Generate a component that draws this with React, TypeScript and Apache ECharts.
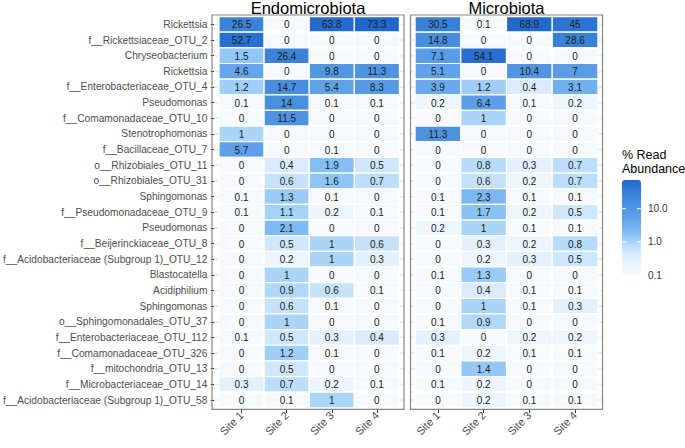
import React, { useEffect, useRef } from "react";
import * as echarts from "echarts";

// ---------- data ----------
const SITES = ["Site 1", "Site 2", "Site 3", "Site 4"];
const FACETS = ["Endomicrobiota", "Microbiota"];
const TAXA = [
  "Rickettsia",
  "f__Rickettsiaceae_OTU_2",
  "Chryseobacterium",
  "Rickettsia",
  "f__Enterobacteriaceae_OTU_4",
  "Pseudomonas",
  "f__Comamonadaceae_OTU_10",
  "Stenotrophomonas",
  "f__Bacillaceae_OTU_7",
  "o__Rhizobiales_OTU_11",
  "o__Rhizobiales_OTU_31",
  "Sphingomonas",
  "f__Pseudomonadaceae_OTU_9",
  "Pseudomonas",
  "f__Beijerinckiaceae_OTU_8",
  "f__Acidobacteriaceae (Subgroup 1)_OTU_12",
  "Blastocatella",
  "Acidiphilium",
  "Sphingomonas",
  "o__Sphingomonadales_OTU_37",
  "f__Enterobacteriaceae_OTU_112",
  "f__Comamonadaceae_OTU_326",
  "f__mitochondria_OTU_13",
  "f__Microbacteriaceae_OTU_14",
  "f__Acidobacteriaceae (Subgroup 1)_OTU_58",
];
// Endomicrobiota, per site (rows in TAXA order)
const ENDO_SITE1 = [26.5, 52.7, 1.5, 4.6, 1.2, 0.1, 0, 1, 5.7, 0, 0, 0.1, 0.1, 0, 0, 0, 0, 0, 0, 0, 0.1, 0, 0, 0.3, 0];
const ENDO_SITE2 = [0, 0, 26.4, 0, 14.7, 14, 11.5, 0, 0, 0.4, 0.6, 1.3, 1.1, 2.1, 0.5, 0.2, 1, 0.9, 0.6, 1, 0.5, 1.2, 0.5, 0.7, 0.1];
const ENDO_SITE3 = [63.8, 0, 0, 9.8, 5.4, 0.1, 0, 0, 0.1, 1.9, 1.6, 0.1, 0.2, 0, 1, 1, 0, 0.6, 0.1, 0, 0.3, 0.1, 0, 0.2, 1];
const ENDO_SITE4 = [73.3, 0, 0, 11.3, 8.3, 0.1, 0, 0, 0, 0.5, 0.7, 0, 0.1, 0, 0.6, 0.3, 0, 0.1, 0, 0, 0.4, 0, 0, 0.1, 0];
// Microbiota, per site
const MICRO_SITE1 = [30.5, 14.8, 7.1, 5.1, 3.9, 0.2, 0, 11.3, 0, 0, 0, 0.1, 0.1, 0.2, 0, 0, 0.1, 0, 0, 0.1, 0.3, 0.1, 0, 0.1, 0];
const MICRO_SITE2 = [0.1, 0, 54.1, 0, 1.2, 6.4, 1, 0, 0, 0.8, 0.6, 2.3, 1.7, 1, 0.3, 0.2, 1.3, 0.4, 1, 0.9, 0, 0.2, 1.4, 0.2, 0.2];
const MICRO_SITE3 = [68.9, 0, 0, 10.4, 0.4, 0.1, 0, 0, 0, 0.3, 0.2, 0.1, 0.2, 0.1, 0.2, 0.3, 0, 0.1, 0.1, 0, 0.2, 0.1, 0, 0, 0.1];
const MICRO_SITE4 = [45, 28.6, 0, 7, 3.1, 0.2, 0, 0, 0, 0.7, 0.7, 0.1, 0.5, 0.1, 0.8, 0.5, 0, 0.1, 0.3, 0, 0.2, 0.1, 0, 0, 0.1];
const LEGEND_TICKS = [10, 1, 0.1];
const LEGEND_TICK_LABELS = ["10.0", "1.0", "0.1"];

// ---------- style ----------
const FONT = '"Liberation Sans", Arial, Helvetica, sans-serif';
const COLOR_STOPS: [number, number[]][] = [
  [-1, [246, 250, 255]],
  [-0.699, [237, 245, 254]],
  [-0.523, [227, 240, 253]],
  [-0.301, [208, 231, 252]],
  [0, [170, 213, 250]],
  [0.301, [128, 187, 244]],
  [0.699, [97, 163, 234]],
  [1, [81, 150, 227]],
  [1.398, [61, 132, 218]],
  [1.865, [32, 103, 204]],
];

function stopColor(l: number): string {
  let a = COLOR_STOPS[0];
  let b = COLOR_STOPS[COLOR_STOPS.length - 1];
  if (l <= a[0]) b = a;
  for (let i = 0; i < COLOR_STOPS.length - 1; i++) {
    if (l >= COLOR_STOPS[i][0] && l <= COLOR_STOPS[i + 1][0]) {
      a = COLOR_STOPS[i];
      b = COLOR_STOPS[i + 1];
      break;
    }
  }
  const t = b[0] === a[0] ? 0 : (l - a[0]) / (b[0] - a[0]);
  const c = a[1].map((v, k) => Math.round(v + (b[1][k] - v) * t));
  return `rgb(${c[0]},${c[1]},${c[2]})`;
}

// layout (panel boxes)
const PANEL_TOP = 15;
const PANEL_H = 394.4;
const PANEL_W = 192;
const PANEL_LEFTS = [212, 410.5];
const PAD_UNITS = 0.1;

export default function App() {
  const ref = useRef<HTMLDivElement>(null);

  useEffect(() => {
    if (!ref.current) return;
    const chart = echarts.init(ref.current, undefined, { renderer: "svg" });

    const facetCols = [
      [ENDO_SITE1, ENDO_SITE2, ENDO_SITE3, ENDO_SITE4],
      [MICRO_SITE1, MICRO_SITE2, MICRO_SITE3, MICRO_SITE4],
    ];
    const allVals = facetCols.flat(2);
    const vMax = Math.max(...allVals);
    const vMin = Math.min(...allVals.filter((v) => v > 0));
    const lMin = Math.log10(vMin) - 1e-9;
    const lMax = Math.log10(vMax);

    const makeData = (cols: number[][]) => {
      const out: number[][] = [];
      cols.forEach((arr, c) =>
        arr.forEach((v, r) => out.push([c, r, v, v > 0 ? Math.log10(v) : -9]))
      );
      return out;
    };

    const nSamples = 40;
    const mapColors: string[] = [];
    for (let i = 0; i < nSamples; i++) {
      mapColors.push(stopColor(lMin + ((lMax - lMin) * i) / (nSamples - 1)));
    }

    const nRows = TAXA.length;
    const nCols = SITES.length;
    const unitX = PANEL_W / (nCols + 2 * (0.5 + PAD_UNITS) - 1);
    const unitY = PANEL_H / (nRows + 2 * (0.5 + PAD_UNITS) - 1);
    const padX = unitX * PAD_UNITS;
    const padY = unitY * PAD_UNITS;

    const grids = PANEL_LEFTS.map((l) => ({
      left: l + padX,
      top: PANEL_TOP + padY,
      width: PANEL_W - 2 * padX,
      height: PANEL_H - 2 * padY,
    }));

    const gridLineItem = (params: any, api: any) => {
      const cs = params.coordSys;
      const s = api.size([1, 1]);
      const c = api.coord([api.value(0), api.value(1)]);
      const px = s[0] * PAD_UNITS;
      const py = s[1] * PAD_UNITS;
      const style = { stroke: "#ebebeb", lineWidth: 1 };
      return {
        type: "group",
        children: [
          { type: "line", shape: { x1: cs.x - px, y1: c[1], x2: cs.x + cs.width + px, y2: c[1] }, style },
          { type: "line", shape: { x1: c[0], y1: cs.y - py, x2: c[0], y2: cs.y + cs.height + py }, style },
        ],
      };
    };

    const tileItem = (params: any, api: any) => {
      const v = api.value(2);
      const c = api.coord([api.value(0), api.value(1)]);
      const s = api.size([1, 1]);
      return {
        type: "group",
        children: [
          {
            type: "rect",
            shape: { x: c[0] - s[0] / 2, y: c[1] - s[1] / 2, width: s[0], height: s[1] },
            style: { fill: api.visual("color"), stroke: "#ffffff", lineWidth: 1.2 },
          },
          {
            type: "text",
            x: c[0],
            y: c[1] + 0.5,
            style: {
              text: String(v),
              align: "center",
              verticalAlign: "middle",
              fill: "#222222",
              fontSize: 10,
              fontFamily: FONT,
            },
          },
        ],
      };
    };

    const series: any[] = [];
    facetCols.forEach((cols, f) => {
      const data = makeData(cols);
      series.push({
        type: "custom",
        xAxisIndex: f,
        yAxisIndex: f,
        z: 1,
        silent: true,
        renderItem: gridLineItem,
        encode: { x: 0, y: 1 },
        data,
      });
      series.push({
        type: "custom",
        xAxisIndex: f,
        yAxisIndex: f,
        z: 2,
        silent: true,
        renderItem: tileItem,
        encode: { x: 0, y: 1 },
        dimensions: ["site", "taxon", "value", "logValue"],
        data,
      });
    });

    const tickStyle = { show: true, alignWithLabel: true, length: 3.7, lineStyle: { color: "#333333", width: 1 } };

    const xAxes = grids.map((_, i) => ({
      type: "category",
      gridIndex: i,
      data: SITES,
      position: "bottom",
      offset: padY,
      axisLine: { show: false },
      axisTick: tickStyle,
      splitLine: { show: false },
      axisLabel: {
        rotate: 45,
        interval: 0,
        fontSize: 11,
        color: "#4d4d4d",
        margin: 4,
        fontFamily: FONT,
      },
    }));
    const yAxes = grids.map((_, i) => ({
      type: "category",
      gridIndex: i,
      inverse: true,
      data: TAXA.map((_, k) => String(k)),
      offset: padX,
      axisLine: { show: false },
      axisTick: { ...tickStyle, show: i === 0 },
      splitLine: { show: false },
      axisLabel: {
        show: i === 0,
        interval: 0,
        fontSize: 10.2,
        color: "#4d4d4d",
        margin: 7,
        fontFamily: FONT,
        formatter: (_v: string, idx: number) => TAXA[idx],
      },
    }));

    // legend geometry
    const barLeft = 622;
    const barTop = 180;
    const barW = 19;
    const barH = 95;
    const yOf = (v: number) => barTop + ((lMax - Math.log10(v)) / (lMax - lMin)) * barH;

    const graphics: any[] = [];
    PANEL_LEFTS.forEach((l, i) => {
      graphics.push({
        type: "rect",
        z: 100,
        silent: true,
        shape: { x: l, y: PANEL_TOP, width: PANEL_W, height: PANEL_H },
        style: { fill: "none", stroke: "#858585", lineWidth: 1.2 },
      });
      graphics.push({
        type: "text",
        x: l + PANEL_W / 2,
        y: 0,
        style: {
          text: FACETS[i],
          align: "center",
          verticalAlign: "top",
          fontSize: 16.5,
          lineHeight: 16.5,
          fill: "#000000",
          fontFamily: FONT,
        },
      });
    });
    graphics.push({
      type: "text",
      x: barLeft,
      y: 155,
      style: { text: "% Read", align: "left", verticalAlign: "middle", fontSize: 12.5, fill: "#000", fontFamily: FONT },
    });
    graphics.push({
      type: "text",
      x: barLeft,
      y: 169,
      style: { text: "Abundance", align: "left", verticalAlign: "middle", fontSize: 12.5, fill: "#000", fontFamily: FONT },
    });
    LEGEND_TICKS.forEach((v, i) => {
      const y = yOf(v);
      graphics.push({
        type: "text",
        x: barLeft + barW + 7,
        y,
        style: {
          text: LEGEND_TICK_LABELS[i],
          align: "left",
          verticalAlign: "middle",
          fontSize: 10,
          fill: "#333333",
          fontFamily: FONT,
        },
      });
      if (v !== vMin) {
        graphics.push({
          type: "line",
          z: 100,
          shape: { x1: barLeft, y1: y, x2: barLeft + 4, y2: y },
          style: { stroke: "#ffffff", lineWidth: 1 },
        });
        graphics.push({
          type: "line",
          z: 100,
          shape: { x1: barLeft + barW - 4, y1: y, x2: barLeft + barW, y2: y },
          style: { stroke: "#ffffff", lineWidth: 1 },
        });
      }
    });

    chart.setOption({
      animation: false,
      textStyle: { fontFamily: FONT },
      grid: grids,
      xAxis: xAxes,
      yAxis: yAxes,
      visualMap: {
        type: "continuous",
        min: lMin,
        max: lMax,
        dimension: 3,
        seriesIndex: [1, 3],
        calculable: false,
        realtime: false,
        hoverLink: false,
        orient: "vertical",
        left: barLeft,
        top: barTop,
        itemWidth: barW,
        itemHeight: barH,
        padding: 0,
        showLabel: false,
        text: ["", ""],
        inRange: { color: mapColors },
        outOfRange: { color: ["#ffffff"] },
      },
      graphic: graphics,
      series,
    });

    return () => chart.dispose();
  }, []);

  return (
    <div
      ref={ref}
      style={{ position: "fixed", left: 0, top: 0, width: 685, height: 448, background: "#ffffff" }}
    />
  );
}
